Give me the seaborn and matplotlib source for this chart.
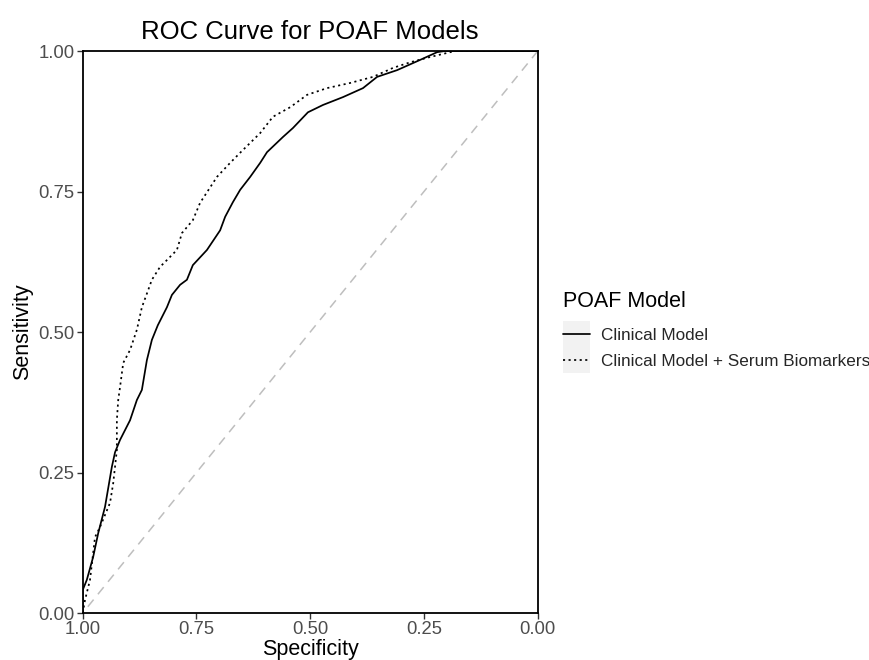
import numpy as np
import pandas as pd
import seaborn as sns
import matplotlib
matplotlib.use("Agg")
import matplotlib.pyplot as plt
from matplotlib.lines import Line2D
from matplotlib.patches import Rectangle

# ---- data ----
fpr_clinical = [0.0, 0.0, 0.009, 0.023, 0.034, 0.049, 0.064, 0.071, 0.082, 0.104, 0.119,
                0.130, 0.141, 0.152, 0.165, 0.185, 0.196, 0.214, 0.229, 0.242, 0.273,
                0.302, 0.313, 0.330, 0.346, 0.368, 0.390, 0.405, 0.440, 0.462, 0.495,
                0.528, 0.572, 0.616, 0.647, 0.691, 0.741, 0.779, 0.796, 1.0]
sens_clinical = [0.0, 0.041, 0.059, 0.100, 0.142, 0.189, 0.260, 0.286, 0.308, 0.343, 0.379,
                 0.397, 0.450, 0.486, 0.512, 0.544, 0.566, 0.584, 0.593, 0.619, 0.646,
                 0.681, 0.705, 0.731, 0.753, 0.776, 0.801, 0.820, 0.847, 0.863, 0.891,
                 0.904, 0.918, 0.934, 0.954, 0.966, 0.984, 0.998, 1.0, 1.0]
fpr_biomarker = [0.0, 0.005, 0.016, 0.027, 0.038, 0.060, 0.067, 0.075, 0.075, 0.078, 0.082,
                 0.089, 0.104, 0.119, 0.130, 0.144, 0.152, 0.170, 0.185, 0.207, 0.218,
                 0.242, 0.258, 0.295, 0.324, 0.346, 0.390, 0.418, 0.456, 0.493, 0.537,
                 0.587, 0.638, 0.682, 0.720, 0.757, 0.808, 0.818, 1.0]
sens_biomarker = [0.0, 0.023, 0.059, 0.135, 0.153, 0.196, 0.231, 0.290, 0.343, 0.379, 0.402,
                  0.445, 0.468, 0.504, 0.544, 0.575, 0.593, 0.616, 0.628, 0.646, 0.676,
                  0.699, 0.730, 0.776, 0.801, 0.819, 0.854, 0.883, 0.900, 0.922, 0.934,
                  0.943, 0.954, 0.970, 0.980, 0.988, 0.998, 1.0, 1.0]
models = ["Clinical Model", "Clinical Model + Serum Biomarkers"]
legend_title = "POAF Model"
x_ticks = [1.00, 0.75, 0.50, 0.25, 0.00]
y_ticks = [0.00, 0.25, 0.50, 0.75, 1.00]

spec_clinical = [1 - v for v in fpr_clinical]
spec_biomarker = [1 - v for v in fpr_biomarker]

df = pd.concat([
    pd.DataFrame({"Specificity": spec_clinical, "Sensitivity": sens_clinical, "POAF Model": models[0]}),
    pd.DataFrame({"Specificity": spec_biomarker, "Sensitivity": sens_biomarker, "POAF Model": models[1]}),
], ignore_index=True)

sns.set_theme(style="white")
plt.rcParams["font.family"] = ["Liberation Sans", "DejaVu Sans"]

fig = plt.figure(figsize=(8.69, 6.60), dpi=100)
ax = fig.add_axes([0.0952, 0.0712, 0.5236, 0.8515])

LW = 1.25
dot = (1.2, 2.0)
sns.lineplot(data=df, x="Specificity", y="Sensitivity", style="POAF Model",
             style_order=models, dashes={models[0]: "", models[1]: dot},
             color="black", linewidth=LW, sort=False, estimator=None, ax=ax, legend=False)

ax.axline((1, 0), (0, 1), color="#BEBEBE", linewidth=1.1, linestyle=(0, (6, 4.5)), zorder=1)

ax.set_xlim(1, 0)
ax.set_ylim(0, 1)
ax.set_xticks(x_ticks)
ax.set_xticklabels([f"{v:.2f}" for v in x_ticks])
ax.set_yticks(y_ticks)
ax.set_yticklabels([f"{v:.2f}" for v in y_ticks])
ax.tick_params(axis="both", which="major", direction="out", length=4, width=1.0,
               color="#333333", labelsize=13.3, labelcolor="#4D4D4D", pad=2,
               bottom=True, left=True)
for s in ax.spines.values():
    s.set_color("black")
    s.set_linewidth(1.3)
    s.set_visible(True)

ax.set_xlabel("Specificity", fontsize=15.5, color="black", labelpad=0.5)
ax.set_ylabel("Sensitivity", fontsize=15.5, color="black", labelpad=4)
ax.set_title("ROC Curve for POAF Models", fontsize=18.5, color="black", pad=9)

# ---- legend ----
handles = [Line2D([], [], color="black", linewidth=LW, linestyle=ls)
           for ls in ["-", (0, dot)]]
leg = fig.legend(handles, models, loc="upper left", bbox_to_anchor=(563 / 869, 1 - 327 / 660),
                 frameon=False, fontsize=12.3,
                 handlelength=1.6, handleheight=1.0, labelspacing=0.55,
                 handletextpad=0.65, borderaxespad=0, borderpad=0)
leg.set_zorder(6)
fig.text(563 / 869, 1 - 302 / 660, legend_title, fontsize=15.5, color="black",
         ha="left", va="center")

# grey key background behind the legend keys
fig.canvas.draw()
r = fig.canvas.get_renderer()
bbs = [ln.get_window_extent(r) for ln in leg.get_lines()]
yc = [(b.y0 + b.y1) / 2 for b in bbs]
step = abs(yc[0] - yc[1])
x0 = min(b.x0 for b in bbs)
x1 = max(b.x1 for b in bbs)
top = max(yc) + step / 2
bot = min(yc) - step / 2
inv = fig.transFigure.inverted()
(fx0, fy0), (fx1, fy1) = inv.transform([(x0, bot), (x1, top)])
fig.add_artist(Rectangle((fx0, fy0), fx1 - fx0, fy1 - fy0, transform=fig.transFigure,
                         facecolor="#F2F2F2", edgecolor="none", zorder=4))

fig.savefig("out.png", dpi=100)
